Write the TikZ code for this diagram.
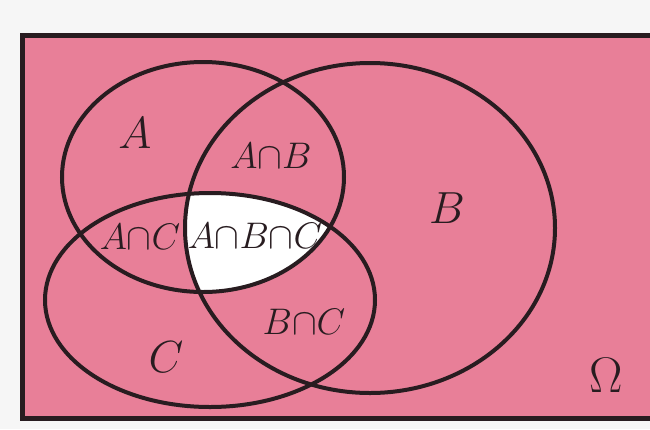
\RequirePackage{fix-cm}
\documentclass[tikz,border=0pt]{standalone}
\usetikzlibrary{positioning}
\definecolor{vennpink}{RGB}{232,127,152}
\definecolor{ink}{RGB}{40,28,32}
\definecolor{paper}{RGB}{246,246,246}
\begin{document}
\begin{tikzpicture}[x=1pt,y=-1pt,
  set/.style={draw=ink,line width=4pt},
  small/.style={font=\fontsize{37}{40}\selectfont,text=ink,inner sep=0pt},
  big/.style={font=\fontsize{45}{48}\selectfont,text=ink,inner sep=0pt}]
  \useasboundingbox (0,0) rectangle (650,429);
  \fill[paper] (0,0) rectangle (650,429);
  \begin{scope}
    \clip (0,0) rectangle (650,429);
    \draw[set,line width=5pt,fill=vennpink] (22,35) rectangle (680,418);
  \end{scope}
  % A n B n C stays white
  \begin{scope}
    \clip (203,177) ellipse [x radius=141,y radius=115];
    \clip (370,228) ellipse [x radius=185,y radius=165];
    \fill[white] (210,300) ellipse [x radius=165,y radius=107];
  \end{scope}
  \draw[set] (203,177) ellipse [x radius=141,y radius=115];
  \draw[set] (370,228) ellipse [x radius=185,y radius=165];
  \draw[set] (210,300) ellipse [x radius=165,y radius=107];
  \node[big] (labA) at (135,133) {$A$};
  \node[big] (labB) at (447,208) {$B$};
  \node[big] (labC) at (166,357) {$C$};
  \node[big,font=\fontsize{50}{52}\selectfont] (omega) at (606,375) {$\Omega$};
  \node[small] (ab) at (271,156) {$A{\cap}B$};
  \node[small] (ac) at (140,237) {$A{\cap}C$};
  \node[small] (abc) at (255,236) {$A{\cap}B{\cap}C$};
  \node[small] (bc) at (304,322) {$B{\cap}C$};
\end{tikzpicture}
\end{document}
